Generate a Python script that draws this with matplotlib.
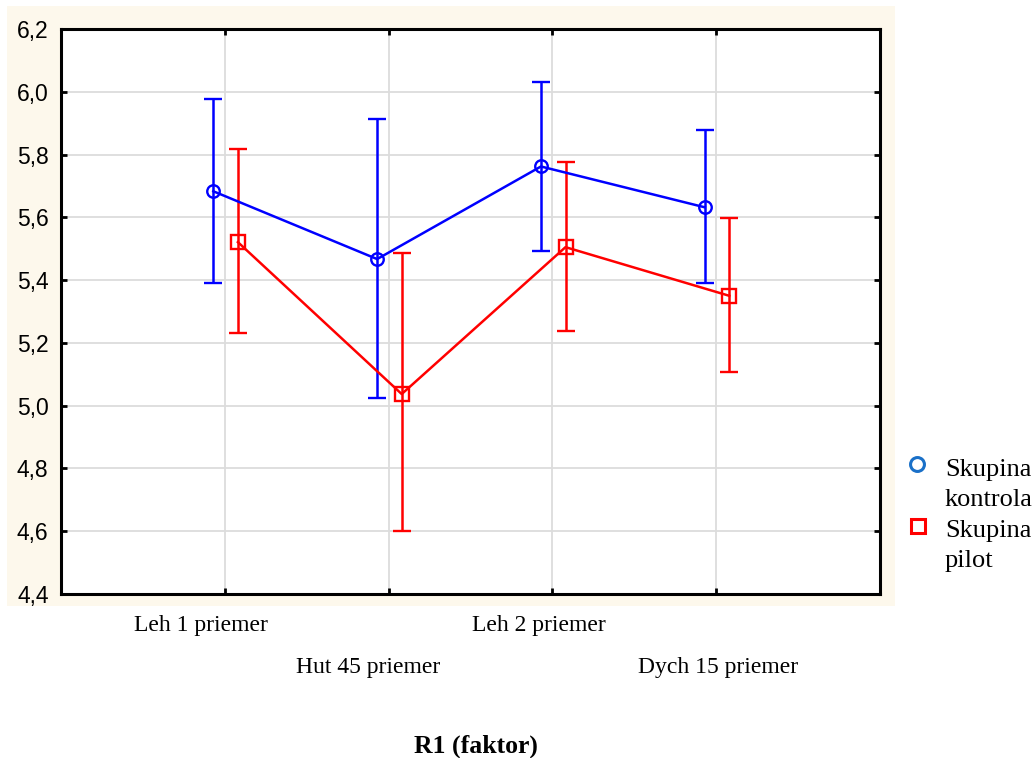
import matplotlib.pyplot as plt
from matplotlib.lines import Line2D
from matplotlib.patches import Rectangle
from matplotlib.transforms import blended_transform_factory

# data
categories = ["Leh 1 priemer", "Hut 45 priemer", "Leh 2 priemer", "Dych 15 priemer"]
kontrola_mean = [5.683, 5.467, 5.762, 5.632]
kontrola_low = [5.390, 5.024, 5.492, 5.390]
kontrola_high = [5.976, 5.913, 6.031, 5.878]
pilot_mean = [5.521, 5.037, 5.505, 5.350]
pilot_low = [5.231, 4.600, 5.237, 5.107]
pilot_high = [5.817, 5.486, 5.776, 5.597]
legend_labels = ["Skupina\nkontrola", "Skupina\npilot"]
x_title = "R1 (faktor)"
y_ticks = [4.4, 4.6, 4.8, 5.0, 5.2, 5.4, 5.6, 5.8, 6.0, 6.2]

W, H = 1036, 758
fig = plt.figure(figsize=(W / 100, H / 100), dpi=100)
fig.patch.set_facecolor("white")

# beige panel behind the plot
fig.add_artist(Rectangle((7 / W, 1 - 606 / H), 888 / W, 600 / H,
                         transform=fig.transFigure, facecolor="#fdf8ec",
                         edgecolor="none", zorder=0))

ax = fig.add_axes([61 / W, 1 - 594 / H, 819 / W, 565 / H])
ax.set_facecolor("white")

x = list(range(len(categories)))
xk = [i - 0.07 for i in x]
xp = [i + 0.08 for i in x]

ax.errorbar(xk, kontrola_mean,
            yerr=[[m - l for m, l in zip(kontrola_mean, kontrola_low)],
                  [h - m for m, h in zip(kontrola_mean, kontrola_high)]],
            color="#0000ff", lw=1.8, elinewidth=1.8, capsize=6.5, capthick=1.8,
            marker="o", ms=9, mfc="none", mec="#0000ff", mew=1.7, zorder=3)
ax.errorbar(xp, pilot_mean,
            yerr=[[m - l for m, l in zip(pilot_mean, pilot_low)],
                  [h - m for m, h in zip(pilot_mean, pilot_high)]],
            color="#ff0000", lw=1.8, elinewidth=1.8, capsize=6.5, capthick=1.8,
            marker="s", ms=9.5, mfc="none", mec="#ff0000", mew=1.7, zorder=3)

ax.set_xlim(-1, 4)
ax.set_ylim(4.4, 6.2)
ax.set_xticks(x)
ax.set_xticklabels([])
ax.set_yticks(y_ticks)
ax.set_yticklabels([f"{v:.1f}".replace(".", ",") for v in y_ticks],
                   fontfamily="Liberation Sans", fontsize=16.5)
ax.grid(True, color="#dcdcdc", lw=1.3, zorder=0)
ax.set_axisbelow(True)
ax.tick_params(direction="in", length=4, width=2, top=True, right=True,
               pad=9, labelright=False)
for s in ax.spines.values():
    s.set_linewidth(2.2)
    s.set_color("black")

# staggered category labels
label_shift = [-0.147, 0.875, 1.917, 3.009]
label_y = [1 - 626 / H, 1 - 667 / H, 1 - 626 / H, 1 - 667 / H]
tr = blended_transform_factory(ax.transData, fig.transFigure)
for cx, cy, name in zip(label_shift, label_y, categories):
    ax.text(cx, cy, name, transform=tr, ha="center", va="center",
            fontfamily="Liberation Serif", fontsize=17, clip_on=False)

fig.text(476 / W, 1 - 746 / H, x_title, ha="center", va="center",
         fontfamily="Liberation Serif", fontsize=18.5, fontweight="bold")

# legend drawn by hand
fig.add_artist(Line2D([917 / W], [1 - 464 / H], transform=fig.transFigure,
                      marker="o", ms=10, mfc="none", mec="#1a70c8", mew=2.2))
fig.add_artist(Line2D([918 / W], [1 - 526 / H], transform=fig.transFigure,
                      marker="s", ms=10.5, mfc="none", mec="#ff0000", mew=2.2))
for lbl, top in zip(legend_labels, [476, 537]):
    first, second = lbl.split("\n")
    fig.text(945 / W, 1 - top / H, first, ha="left", va="baseline",
             fontfamily="Liberation Serif", fontsize=19)
    fig.text(945 / W, 1 - (top + 30) / H, second, ha="left", va="baseline",
             fontfamily="Liberation Serif", fontsize=19)

fig.savefig("out.png", dpi=100)
